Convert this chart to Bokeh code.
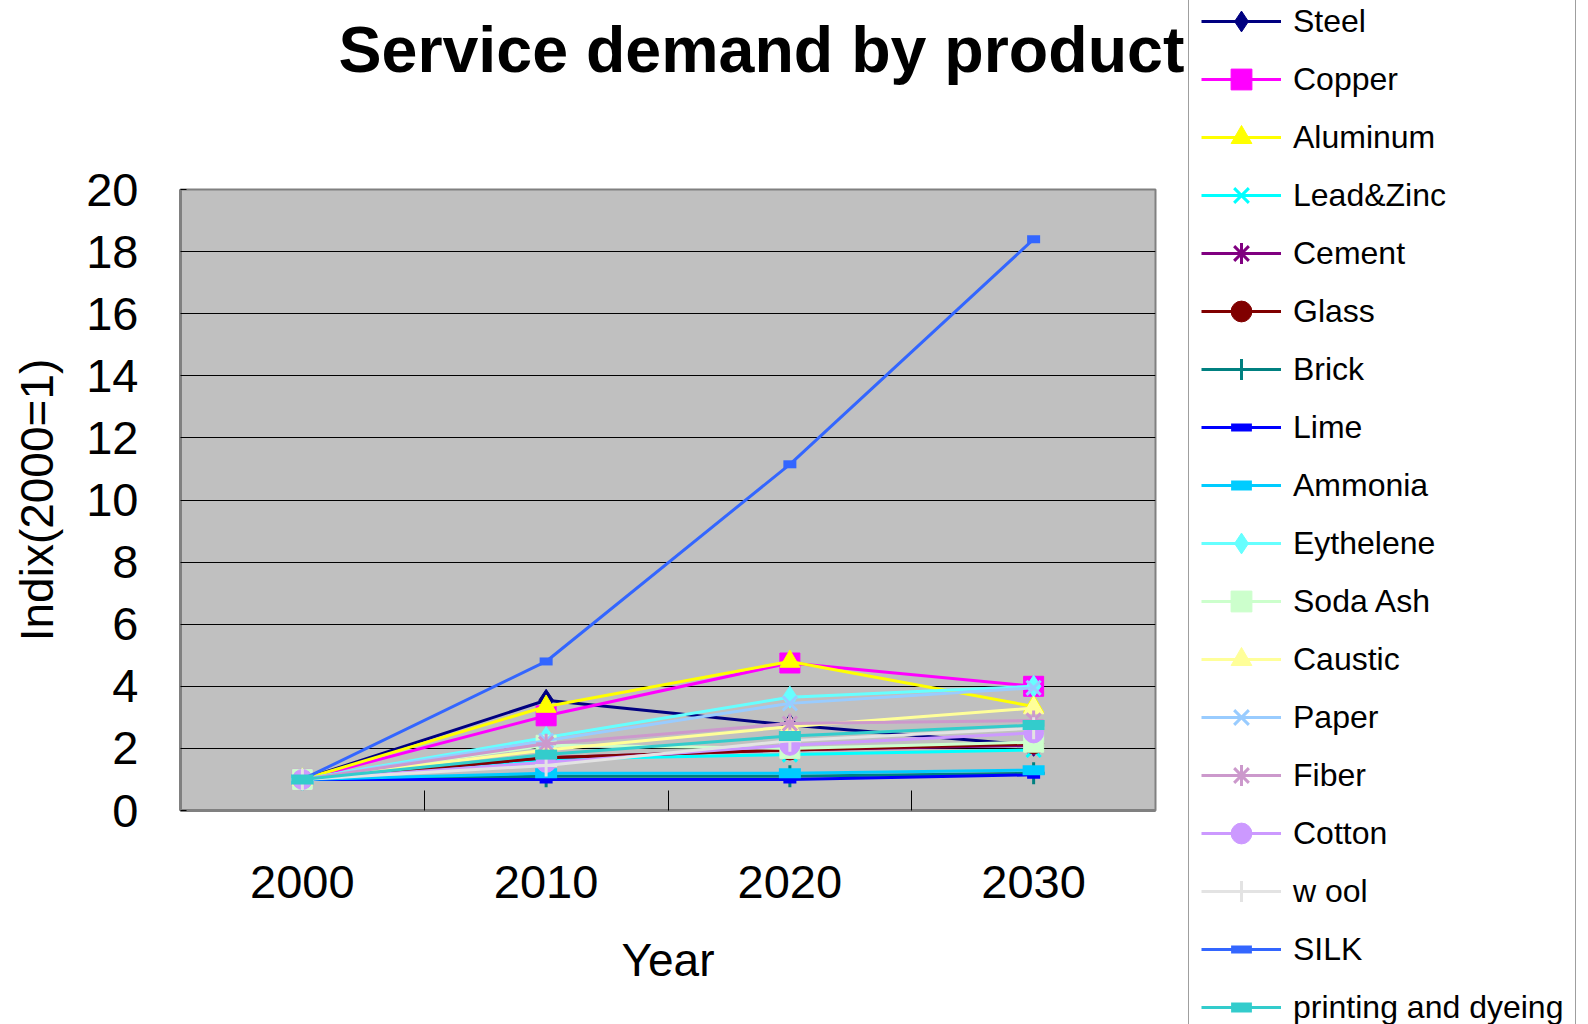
from bokeh.plotting import figure
from bokeh.models import (Range1d, FixedTicker, SingleIntervalTicker, Legend, LegendItem,
                          ColumnDataSource, Title)
from bokeh.embed import file_html
from bokeh.resources import INLINE

years = ["2000", "2010", "2020", "2030"]

steel = [1.0, 3.55, 2.75, 2.1]
copper = [1.0, 3.05, 4.75, 4.0]
aluminum = [1.0, 3.35, 4.8, 3.35]
lead_zinc = [1.0, 1.65, 1.8, 1.95]
cement = [1.0, 1.7, 1.95, 2.1]
glass = [1.0, 1.7, 1.95, 2.15]
brick = [1.0, 1.1, 1.1, 1.2]
lime = [1.0, 1.0, 1.0, 1.15]
ammonia = [1.0, 1.2, 1.2, 1.3]
eythelene = [1.0, 2.35, 3.65, 4.0]
soda_ash = [1.0, 2.1, 2.0, 2.2]
caustic = [1.0, 1.95, 2.7, 3.3]
paper = [1.0, 2.25, 3.45, 3.95]
fiber = [1.0, 2.15, 2.8, 2.9]
cotton = [1.0, 1.55, 2.1, 2.5]
wool = [1.0, 1.45, 2.25, 2.65]
silk = [1.0, 4.8, 11.15, 18.4]
printing = [1.0, 1.8, 2.4, 2.75]

names = ["Steel", "Copper", "Aluminum", "Lead&Zinc", "Cement", "Glass", "Brick", "Lime",
         "Ammonia", "Eythelene", "Soda Ash", "Caustic", "Paper", "Fiber", "Cotton", "w ool",
         "SILK", "printing and dyeing"]
values = [steel, copper, aluminum, lead_zinc, cement, glass, brick, lime, ammonia, eythelene,
          soda_ash, caustic, paper, fiber, cotton, wool, silk, printing]
colors = ["#000080", "#FF00FF", "#FFFF00", "#00FFFF", "#800080", "#800000", "#008080", "#0000FF",
          "#00CCFF", "#66FFFF", "#CCFFCC", "#FFFF99", "#99CCFF", "#CC99CC", "#CC99FF", "#E3E3E3",
          "#3366FF", "#33CCCC"]
markers = ["diamond", "square", "triangle", "x", "asterisk", "circle", "cross", "dash",
           "dash", "diamond", "square", "triangle", "x", "asterisk", "circle", "cross",
           "dash", "dash"]
msizes = [22, 20, 20, 20, 20, 20, 22, 13, 22, 22, 20, 20, 20, 20, 20, 22, 13, 22]
mlw = [1, 1, 1, 3, 3, 1, 3, 8, 10, 1, 1, 1, 3, 3, 1, 3, 8, 10]

FONT = "Liberation Sans"
H = 1020

p = figure(frame_width=975, frame_height=621, output_backend="svg", toolbar_location=None,
           x_range=Range1d(0, len(years)), y_range=Range1d(0, 20),
           min_border_left=180, min_border_right=0, min_border_top=189,
           min_border_bottom=H - 189 - 621)

p.background_fill_color = "#C0C0C0"
p.border_fill_color = "white"
p.outline_line_color = "#808080"
p.outline_line_width = 2

xs = [i + 0.5 for i in range(len(years))]

renderers = []
for name, vals, col, mk, ms, lw in zip(names, values, colors, markers, msizes, mlw):
    src = ColumnDataSource(dict(x=xs, y=vals))
    lr = p.line("x", "y", source=src, line_color=col, line_width=3)
    fill = col if mk in ("diamond", "square", "triangle", "circle") else None
    sr = p.scatter("x", "y", source=src, marker=mk, size=ms, line_color=col,
                   fill_color=fill, line_width=lw)
    renderers.append((name, lr, sr))

xa = p.xaxis[0]
xa.ticker = FixedTicker(ticks=xs, minor_ticks=[1, 2, 3])
xa.major_label_overrides = {x: y for x, y in zip(xs, years)}
xa.major_tick_in = 0
xa.major_tick_out = 0
xa.minor_tick_in = 20
xa.minor_tick_out = 0
xa.minor_tick_line_color = "black"
xa.minor_tick_line_width = 1
xa.axis_line_color = "#808080"
xa.axis_line_width = 3
xa.major_label_standoff = 55
xa.major_label_text_font = FONT
xa.major_label_text_font_size = "47px"
xa.major_label_text_color = "black"
xa.axis_label = "Year"
xa.axis_label_text_font = FONT
xa.axis_label_text_font_size = "46px"
xa.axis_label_text_font_style = "normal"
xa.axis_label_text_color = "black"
xa.axis_label_standoff = 33

ya = p.yaxis[0]
ya.ticker = SingleIntervalTicker(interval=2)
ya.minor_tick_line_color = None
ya.major_tick_in = 6
ya.major_tick_out = 0
ya.major_tick_line_color = "black"
ya.axis_line_color = "#808080"
ya.axis_line_width = 3
ya.major_label_standoff = 38
ya.major_label_text_font = FONT
ya.major_label_text_font_size = "47px"
ya.major_label_text_color = "black"
ya.axis_label = "Indix(2000=1)"
ya.axis_label_text_font = FONT
ya.axis_label_text_font_size = "46px"
ya.axis_label_text_font_style = "normal"
ya.axis_label_text_color = "black"
ya.axis_label_standoff = 20

p.xgrid.grid_line_color = None
p.ygrid.grid_line_color = "black"
p.ygrid.grid_line_width = 1

# real title (outermost panel)
p.title.text = "Service demand by product"
p.title.align = "left"
p.title.offset = 158
p.title.standoff = 20
p.title.text_font = FONT
p.title.text_font_size = "64.5px"
p.title.text_font_style = "bold"
p.title.text_color = "black"

# empty spacer panel between the frame and the title
spacer = Title(text=" ", text_font_size="2px", standoff=90)
p.add_layout(spacer, "above")

items = [LegendItem(label=n, renderers=[lr, sr]) for n, lr, sr in renderers]
legend = Legend(items=items, location=(33, -236), glyph_width=80, glyph_height=52,
                spacing=6, padding=12, label_standoff=12, margin=0,
                label_text_font=FONT, label_text_font_size="32px", label_text_color="black",
                border_line_color="#404040", border_line_width=1,
                background_fill_color="white", background_fill_alpha=1.0)
p.add_layout(legend, "right")

open("out.html", "w").write(file_html(p, INLINE))
